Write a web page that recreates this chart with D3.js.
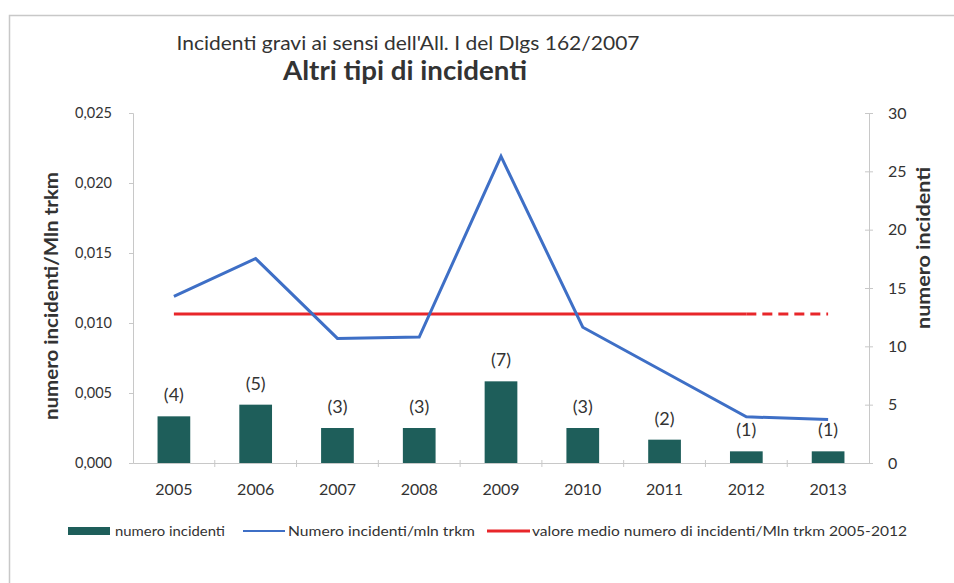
<!DOCTYPE html>
<html>
<head>
<meta charset="utf-8">
<script src="https://cdn.jsdelivr.net/npm/d3@7"></script>
<style>
  body { margin: 0; background: #fff; }
  svg text { font-family: Lato, "Open Sans", sans-serif; fill: #333; }
</style>
</head>
<body>
<div class="chart"></div>
<script>
// data
let years = ["2005", "2006", "2007", "2008", "2009", "2010", "2011", "2012", "2013"];
let numIncidenti = [4, 5, 3, 3, 7, 3, 2, 1, 1];
let perMlnTrkm = [0.0119, 0.0146, 0.0089, 0.0090, 0.0219, 0.0097, 0.0065, 0.0033, 0.0031];
let valoreMedio = 0.01064;
let leftTicks = [0, 0.005, 0.010, 0.015, 0.020, 0.025];
let rightTicks = [0, 5, 10, 15, 20, 25, 30];
let legendLabels = ["numero incidenti", "Numero incidenti/mln trkm", "valore medio numero di incidenti/Mln trkm 2005-2012"];

let W = 954, H = 583;
let plot = {left: 133, right: 869, top: 113, bottom: 463};

let svg = d3.select(".chart").append("svg")
    .attr("width", W)
    .attr("height", H);

// outer frame
svg.append("rect")
    .attr("x", 9.5).attr("y", 15.5)
    .attr("width", 960).attr("height", 600)
    .attr("fill", "none")
    .attr("stroke", "#c8c8c8")
    .attr("stroke-width", 1.5);

let x = d3.scaleBand()
    .domain(years)
    .range([plot.left, plot.right]);

let yL = d3.scaleLinear().domain([0, 0.025]).range([plot.bottom, plot.top]);
let yR = d3.scaleLinear().domain([0, 30]).range([plot.bottom, plot.top]);

let fmt = d => d3.format(".3f")(d).replace(".", ",");

// left axis
let gL = svg.append("g")
    .attr("transform", "translate(" + plot.left + ",0)")
    .call(d3.axisLeft(yL).tickValues(leftTicks).tickFormat(fmt).tickSize(4).tickPadding(17));
gL.select(".domain").attr("stroke", "#c8c8c8");
gL.selectAll(".tick line").attr("stroke", "#c8c8c8");
gL.selectAll(".tick text").style("font-size", "14.5px").attr("fill", "#444");

// right axis
let gR = svg.append("g")
    .attr("transform", "translate(" + plot.right + ",0)")
    .call(d3.axisRight(yR).tickValues(rightTicks).tickSize(4).tickPadding(15));
gR.select(".domain").attr("stroke", "#c8c8c8");
gR.selectAll(".tick line").attr("stroke", "#c8c8c8").attr("x1", -4);
gR.selectAll(".tick text").style("font-size", "16px").attr("fill", "#444");

// bottom axis
let gX = svg.append("g")
    .attr("transform", "translate(0," + plot.bottom + ")")
    .call(d3.axisBottom(x).tickSize(0).tickPadding(21));
gX.select(".domain").attr("stroke", "#c8c8c8");
gX.selectAll(".tick text").style("font-size", "16px").attr("fill", "#333");
// tick marks between categories
svg.append("g").selectAll("line")
    .data(years.slice(1))
    .enter().append("line")
    .attr("x1", d => x(d)).attr("x2", d => x(d))
    .attr("y1", plot.bottom - 3).attr("y2", plot.bottom + 4)
    .attr("stroke", "#c8c8c8");

// bars
let barW = x.bandwidth() * 0.4;
svg.append("g").selectAll("rect")
    .data(years)
    .enter().append("rect")
    .attr("x", d => x(d) + (x.bandwidth() - barW) / 2)
    .attr("y", (d, i) => yR(numIncidenti[i]))
    .attr("width", barW)
    .attr("height", (d, i) => plot.bottom - yR(numIncidenti[i]))
    .attr("fill", "#1e5e5a");

svg.append("g").selectAll("text")
    .data(years)
    .enter().append("text")
    .attr("x", d => x(d) + x.bandwidth() / 2)
    .attr("y", (d, i) => yR(numIncidenti[i]) - 15)
    .attr("text-anchor", "middle")
    .style("font-size", "18px")
    .text((d, i) => "(" + numIncidenti[i] + ")");

// average line: solid 2005-2012, dashed to 2013
let cx = d => x(d) + x.bandwidth() / 2;
svg.append("line")
    .attr("x1", cx("2005")).attr("x2", cx("2012"))
    .attr("y1", yL(valoreMedio)).attr("y2", yL(valoreMedio))
    .attr("stroke", "#e8262a").attr("stroke-width", 3);
svg.append("line")
    .attr("x1", cx("2012")).attr("x2", cx("2013"))
    .attr("y1", yL(valoreMedio)).attr("y2", yL(valoreMedio))
    .attr("stroke", "#e8262a").attr("stroke-width", 3)
    .attr("stroke-dasharray", "10,6");

// blue line
let line = d3.line()
    .x((d, i) => cx(years[i]))
    .y(d => yL(d));
svg.append("path")
    .datum(perMlnTrkm)
    .attr("d", line)
    .attr("fill", "none")
    .attr("stroke", "#3e6fc6")
    .attr("stroke-width", 3);

// titles
svg.append("text")
    .attr("x", 408).attr("y", 50)
    .attr("text-anchor", "middle")
    .attr("textLength", 463).attr("lengthAdjust", "spacingAndGlyphs")
    .style("font-size", "20px")
    .text("Incidenti gravi ai sensi dell'All. I del Dlgs 162/2007");
svg.append("text")
    .attr("x", 405).attr("y", 80)
    .attr("text-anchor", "middle")
    .attr("textLength", 244).attr("lengthAdjust", "spacingAndGlyphs")
    .style("font-size", "26px")
    .style("font-weight", "bold")
    .text("Altri tipi di incidenti");

svg.append("text")
    .attr("transform", "translate(52,296) rotate(-90)")
    .attr("text-anchor", "middle")
    .attr("dy", "0.35em")
    .attr("textLength", 248).attr("lengthAdjust", "spacingAndGlyphs")
    .style("font-size", "18px")
    .style("font-weight", "bold")
    .text("numero incidenti/Mln trkm");
svg.append("text")
    .attr("transform", "translate(923,248) rotate(-90)")
    .attr("text-anchor", "middle")
    .attr("dy", "0.35em")
    .attr("textLength", 162).attr("lengthAdjust", "spacingAndGlyphs")
    .style("font-size", "19px")
    .style("font-weight", "bold")
    .text("numero incidenti");

// legend
let leg = svg.append("g").attr("transform", "translate(0,531)");
leg.append("rect").attr("x", 68).attr("y", -4).attr("width", 42).attr("height", 8).attr("fill", "#1e5e5a");
leg.append("line").attr("x1", 243).attr("x2", 285).attr("y1", 0).attr("y2", 0)
    .attr("stroke", "#3e6fc6").attr("stroke-width", 2);
leg.append("line").attr("x1", 487).attr("x2", 530).attr("y1", 0).attr("y2", 0)
    .attr("stroke", "#e8262a").attr("stroke-width", 3);
let legX = [115, 288, 532];
let legLen = [110, 187, 375];
leg.selectAll("text")
    .data(legendLabels)
    .enter().append("text")
    .attr("x", (d, i) => legX[i])
    .attr("y", 0)
    .attr("dy", "0.35em")
    .attr("textLength", (d, i) => legLen[i])
    .attr("lengthAdjust", "spacingAndGlyphs")
    .style("font-size", "14px")
    .attr("fill", "#444")
    .text(d => d);
</script>
</body>
</html>
